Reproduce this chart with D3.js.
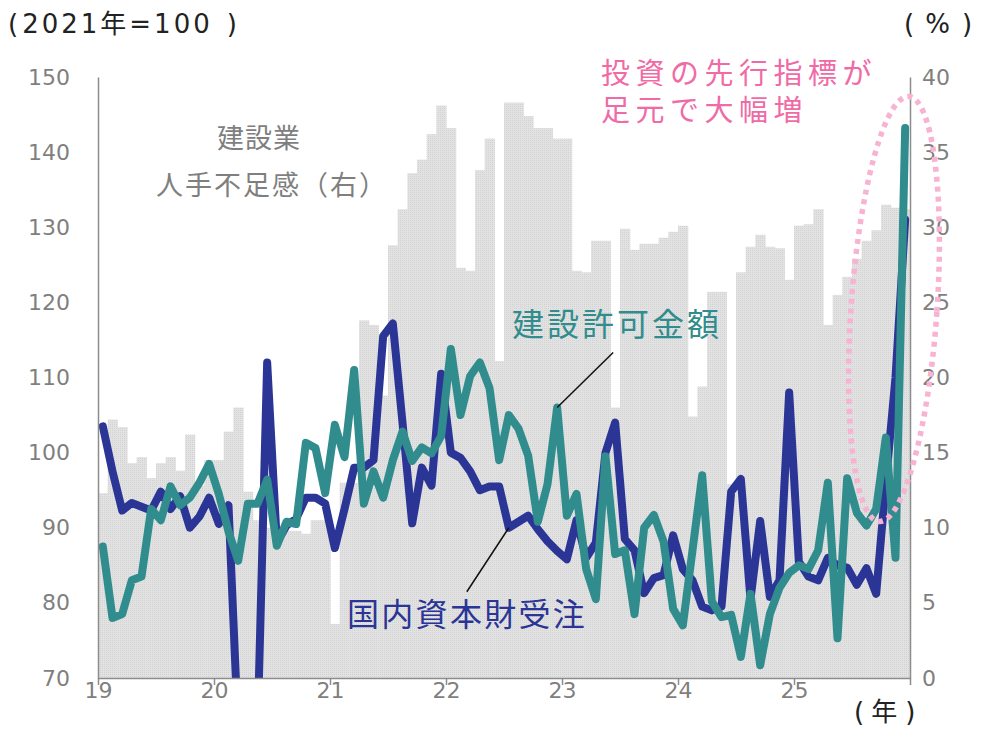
<!DOCTYPE html>
<html>
<head>
<meta charset="utf-8">
<script src="https://cdn.jsdelivr.net/npm/d3@7"></script>
<style>
  body { margin: 0; background: #fff; }
  svg { display: block; font-family: "Noto Sans CJK JP", "Noto Sans", sans-serif; }
</style>
</head>
<body>
<div id="chart"></div>
<script>
// Monthly series, Jan 2019 - Dec 2025
const yearLabels = ["19", "20", "21", "22", "23", "24", "25"];
const months = d3.timeMonths(new Date(2019, 0, 1), new Date(2026, 0, 1));

// 建設業 人手不足感 (right axis, %)
const laborShortage = [
  12.3, 17.2, 16.7, 14.3, 14.7, 13.3, 14.3, 14.7, 13.8, 16.2, 12.8, 14.5,
  14.5, 16.4, 18.0, 12.4, 10.5, 10.0, 9.8, 9.8, 9.8, 9.6, 10.5, 10.5,
  3.6, 13.0, 13.0, 23.8, 23.5, 18.8, 28.8, 31.2, 33.6, 34.5, 36.2, 38.1,
  36.6, 27.3, 27.1, 33.8, 35.9, 21.1, 38.3, 38.3, 37.4, 36.6, 36.6, 35.9,
  35.9, 27.1, 27.0, 29.1, 29.1, 18.0, 29.9, 28.5, 28.9, 28.9, 29.3, 29.7,
  30.1, 17.4, 19.4, 25.7, 25.7, 12.9, 27.0, 28.7, 29.5, 28.7, 28.6, 26.5,
  30.1, 30.2, 31.2, 23.5, 25.5, 26.7, 27.9, 29.1, 29.8, 31.5, 31.3, 31.2
];

// 国内資本財受注 (left axis, 2021=100)
const capitalGoods = [
  103.5, 97.5, 92.3, 93.3, 92.8, 92.3, 94.8, 92.5, 94.2, 90.0, 91.5, 94.0,
  90.5, 93.0, 62.8, 60.0, 62.6, 112.0, 88.0, 90.3, 91.2, 94.0, 94.0, 93.2,
  87.3, 92.5, 98.0, 98.0, 99.0, 115.5, 117.2, 104.0, 90.6, 98.0, 95.6, 110.5,
  100.0, 99.3, 97.5, 95.0, 95.5, 95.5, 90.0, 90.8, 91.6, 89.8, 88.2, 86.9,
  85.8, 91.0, 86.0, 88.0, 100.0, 104.0, 88.5, 87.0, 81.3, 83.3, 83.7, 89.0,
  84.5, 83.0, 79.5, 79.0, 79.5, 94.8, 96.5, 80.5, 90.9, 80.8, 83.0, 108.0,
  85.5, 83.5, 83.0, 86.0, 85.0, 84.7, 82.4, 84.6, 81.2, 96.0, 110.0, 131.0
];

// 建設許可金額 (left axis, 2021=100)
const buildingPermits = [
  87.5, 78.0, 78.5, 83.0, 83.5, 92.5, 91.0, 95.5, 93.0, 94.0, 96.0, 98.5,
  94.5, 89.5, 85.6, 93.2, 93.2, 96.4, 87.6, 90.8, 90.5, 101.3, 100.6, 94.6,
  103.7, 99.4, 111.0, 93.2, 97.5, 94.0, 99.0, 102.8, 98.9, 100.7, 99.9, 102.2,
  113.8, 105.0, 110.2, 112.0, 108.6, 99.0, 105.0, 103.2, 99.6, 90.8, 95.8, 106.0,
  91.6, 94.5, 84.5, 80.5, 99.5, 86.5, 87.0, 78.5, 90.0, 91.7, 88.2, 79.2,
  77.0, 87.0, 97.0, 80.2, 78.1, 78.4, 72.8, 81.2, 71.7, 78.5, 82.0, 84.0,
  85.0, 84.5, 87.0, 96.0, 75.3, 96.6, 92.0, 90.3, 92.5, 102.0, 86.0, 143.2
];

const leftTicks = d3.range(70, 151, 10);
const rightTicks = d3.range(0, 41, 5);

const width = 993, height = 730;
const margin = { left: 98, right: 83, top: 77, bottom: 52 };
const plotRight = width - margin.right;
const plotBottom = height - margin.bottom;

const colors = {
  blue: "#2b3596",
  teal: "#318d8d",
  axis: "#8c8c8c",
  tick: "#7f7f7f",
  pink: "#f06aa6",
  ellipse: "#f8b2d2",
  ink: "#222"
};
const numFont = "'DejaVu Sans', 'Noto Sans CJK JP', sans-serif";

const svg = d3.select("#chart").append("svg")
  .attr("width", width).attr("height", height);

// fine dotted fill like the original gray bars
const defs = svg.append("defs");
const pat = defs.append("pattern").attr("id", "barFill")
  .attr("width", 2).attr("height", 2).attr("patternUnits", "userSpaceOnUse");
pat.append("rect").attr("width", 2).attr("height", 2).attr("fill", "#e2e2e2");
pat.append("rect").attr("width", 1).attr("height", 1).attr("fill", "#d2d2d2");

const x = d3.scaleBand().domain(months).range([margin.left, plotRight]).padding(0);
const xYear = d3.scaleLinear().domain([2019, 2026]).range([margin.left, plotRight]);
const yL = d3.scaleLinear().domain([70, 150]).range([plotBottom, margin.top]);
const yR = d3.scaleLinear().domain([0, 40]).range([plotBottom, margin.top]);
const cx = d => x(d) + x.bandwidth() / 2;

defs.append("clipPath").attr("id", "plotClip")
  .append("rect")
  .attr("x", margin.left).attr("y", margin.top - 10)
  .attr("width", plotRight - margin.left + 1)
  .attr("height", plotBottom - margin.top + 10);

// Bars (right axis)
svg.append("g").selectAll("rect")
  .data(months)
  .join("rect")
  .attr("x", d => x(d))
  .attr("width", x.bandwidth() + 0.6)
  .attr("y", (d, i) => yR(laborShortage[i]))
  .attr("height", (d, i) => plotBottom - yR(laborShortage[i]))
  .attr("fill", "url(#barFill)");

// Lines (left axis)
const line = d3.line()
  .x(d => cx(d.m))
  .y(d => yL(d.v));

const seriesOf = arr => months.map((m, i) => ({ m, v: arr[i] }));

const lines = svg.append("g").attr("clip-path", "url(#plotClip)");
[[capitalGoods, colors.blue], [buildingPermits, colors.teal]].forEach(([arr, c]) => {
  lines.append("path")
    .datum(seriesOf(arr))
    .attr("d", line)
    .attr("fill", "none")
    .attr("stroke", c)
    .attr("stroke-width", 8)
    .attr("stroke-linejoin", "round")
    .attr("stroke-linecap", "round");
});

// Axes
const styleAxis = g => {
  g.select(".domain").attr("stroke", colors.axis).attr("stroke-width", 1.5);
  g.selectAll(".tick line").attr("stroke", colors.axis).attr("stroke-width", 1.5);
  g.selectAll("text")
    .attr("fill", colors.tick)
    .attr("font-size", 22)
    .attr("font-family", numFont);
};

svg.append("g")
  .attr("transform", `translate(${margin.left},0)`)
  .call(d3.axisLeft(yL).tickValues(leftTicks).tickSize(0).tickPadding(28))
  .call(styleAxis);

svg.append("g")
  .attr("transform", `translate(${plotRight},0)`)
  .call(d3.axisRight(yR).tickValues(rightTicks).tickSize(0).tickPadding(12))
  .call(styleAxis);

svg.append("g")
  .attr("transform", `translate(0,${plotBottom})`)
  .call(d3.axisBottom(xYear)
    .tickValues(d3.range(2019, 2027))
    .tickSize(7).tickSizeOuter(0).tickPadding(-3)
    .tickFormat((d, i) => yearLabels[i] || ""))
  .call(styleAxis);

// Unit labels: paren, inner text, paren
const unit = (tx, ty, inner, gapL, gapR, sp) => {
  const t = svg.append("text")
    .attr("x", tx).attr("y", ty)
    .attr("font-size", 26).attr("font-family", numFont).attr("fill", colors.ink);
  t.append("tspan").text("(");
  t.append("tspan").attr("dx", gapL).attr("letter-spacing", sp).text(inner);
  t.append("tspan").attr("dx", gapR).text(")");
};
unit(8, 33, "2021年=100", 4, 14, 3);
unit(904, 33, "%", 11, 12, 0);
unit(854, 721, "年", 7, 8, 0);

// Series labels
svg.append("text").attr("x", 259).attr("y", 148)
  .attr("text-anchor", "middle").attr("font-size", 27).attr("letter-spacing", 1)
  .attr("fill", "#7f7f7f").text("建設業");
svg.append("text").attr("x", 272).attr("y", 195)
  .attr("text-anchor", "middle").attr("font-size", 27).attr("letter-spacing", 2)
  .attr("fill", "#7f7f7f").text("人手不足感（右）");

svg.append("text").attr("x", 512).attr("y", 336)
  .attr("font-size", 32).attr("letter-spacing", 3)
  .attr("fill", colors.teal).text("建設許可金額");
svg.append("text").attr("x", 347).attr("y", 626)
  .attr("font-size", 32).attr("letter-spacing", 2.3)
  .attr("fill", colors.blue).text("国内資本財受注");

// Leader lines anchored on data points
const iPermit = 47, iGoods = 42;
svg.append("line")
  .attr("x1", cx(months[iPermit])).attr("y1", yL(buildingPermits[iPermit]))
  .attr("x2", cx(months[iPermit]) + 56).attr("y2", yL(buildingPermits[iPermit]) - 55)
  .attr("stroke", "#111").attr("stroke-width", 1.5);
svg.append("line")
  .attr("x1", cx(months[iGoods])).attr("y1", yL(capitalGoods[iGoods]))
  .attr("x2", cx(months[iGoods]) - 42).attr("y2", yL(capitalGoods[iGoods]) + 64)
  .attr("stroke", "#111").attr("stroke-width", 1.5);

// Callout
const callout = svg.append("text").attr("font-size", 29).attr("letter-spacing", 5.5)
  .attr("fill", colors.pink);
callout.append("tspan").attr("x", 601).attr("y", 84).text("投資の先行指標が");
callout.append("tspan").attr("x", 601).attr("y", 121).text("足元で大幅増");

svg.append("ellipse")
  .attr("transform", "translate(894,309) rotate(4)")
  .attr("rx", 43).attr("ry", 213)
  .attr("fill", "none")
  .attr("stroke", colors.ellipse)
  .attr("stroke-width", 5.5)
  .attr("stroke-dasharray", "5 5");
</script>
</body>
</html>
